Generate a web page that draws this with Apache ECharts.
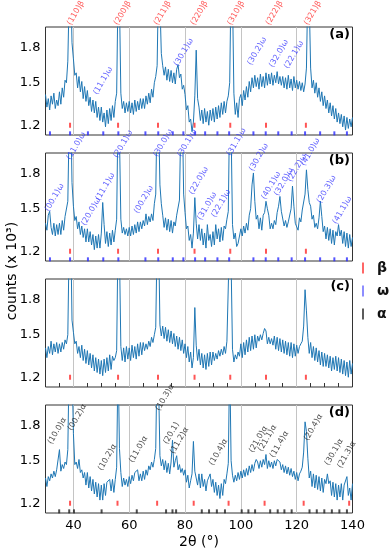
<!DOCTYPE html>
<html><head><meta charset="utf-8">
<script src="https://cdn.jsdelivr.net/npm/echarts@6/dist/echarts.min.js"></script>
<style>html,body{margin:0;padding:0;background:#fff}#c{width:392px;height:550px}</style>
</head><body><div id="c"></div>
<script>
// sampling grid of the scans (degrees 2θ)
const X_START = 30, X_STEP = 0.5;
// counts (x10^3), one value per 0.5°, 30..140
const countsA = [
1.41,1.32,1.38,1.30,1.40,1.34,1.42,1.31,1.37,1.33,
1.43,1.34,1.46,1.39,1.52,1.50,1.68,2.40,2.60,1.85,
1.70,1.56,1.58,1.46,1.55,1.43,1.51,1.38,1.47,1.36,
1.44,1.33,1.39,1.29,1.37,1.28,1.36,1.25,1.32,1.23,
1.32,1.22,1.28,1.19,1.30,1.21,1.31,1.23,1.33,1.25,
1.36,1.42,2.50,2.30,1.42,1.31,1.36,1.28,1.35,1.29,
1.36,1.28,1.35,1.27,1.37,1.29,1.36,1.30,1.38,1.31,
1.38,1.31,1.40,1.34,1.42,1.35,1.45,1.39,1.50,1.55,
1.64,2.60,2.30,1.75,1.64,1.56,1.63,1.52,1.61,1.51,
1.60,1.50,1.58,1.49,1.61,1.65,1.54,1.57,1.45,1.48,
1.41,1.30,1.33,1.22,1.24,1.16,1.22,1.40,1.78,1.38,
1.32,1.23,1.30,1.21,1.31,1.22,1.29,1.20,1.30,1.23,
1.31,1.22,1.32,1.24,1.33,1.25,1.35,1.27,1.36,1.28,
1.36,1.40,1.50,2.60,2.40,1.42,1.27,1.35,1.25,1.38,
1.41,1.33,1.44,1.37,1.47,1.39,1.51,1.43,1.54,1.46,
1.56,1.47,1.54,1.45,1.57,1.47,1.55,1.46,1.58,1.48,
1.57,1.49,1.58,1.48,1.56,1.50,1.59,1.49,1.55,1.48,
1.55,1.46,1.54,1.45,1.56,1.46,1.53,1.44,1.55,1.46,
1.52,1.45,1.51,1.44,1.50,1.43,1.49,1.62,2.50,2.30,
1.62,1.46,1.52,1.42,1.50,1.39,1.46,1.36,1.43,1.33,
1.40,1.31,1.37,1.28,1.35,1.26,1.33,1.24,1.31,1.22,
1.28,1.21,1.27,1.19,1.26,1.17,1.25,1.18,1.24,1.19,
1.25];
const countsB = [
1.39,1.34,1.45,1.48,1.36,1.31,1.39,1.30,1.38,1.31,
1.39,1.31,1.41,1.34,1.44,1.43,1.56,2.40,2.70,1.72,
1.52,1.41,1.44,1.35,1.40,1.31,1.37,1.29,1.35,1.26,
1.35,1.26,1.33,1.24,1.31,1.21,1.30,1.22,1.31,1.22,
1.32,1.55,1.38,1.25,1.33,1.23,1.32,1.24,1.34,1.26,
1.34,1.42,2.60,2.20,1.42,1.32,1.36,1.31,1.35,1.30,
1.36,1.30,1.37,1.31,1.38,1.32,1.40,1.33,1.40,1.35,
1.41,1.37,1.46,1.38,1.44,1.40,1.46,1.41,1.54,1.62,
2.60,2.50,1.70,1.54,1.45,1.36,1.43,1.34,1.42,1.33,
1.41,1.32,1.40,1.37,1.45,1.44,1.57,2.40,2.60,1.62,
1.47,1.35,1.37,1.27,1.31,1.22,1.32,1.59,1.39,1.28,
1.38,1.27,1.35,1.24,1.32,1.22,1.38,1.27,1.31,1.23,
1.33,1.24,1.38,1.28,1.35,1.26,1.36,1.27,1.37,1.35,
1.42,1.48,2.60,2.30,1.38,1.28,1.32,1.23,1.25,1.24,
1.35,1.30,1.37,1.32,1.39,1.34,1.45,1.50,1.70,1.81,
1.56,1.42,1.45,1.35,1.43,1.34,1.45,1.47,1.56,1.50,
1.45,1.35,1.39,1.35,1.41,1.38,1.47,1.52,1.60,1.48,
1.47,1.37,1.41,1.36,1.40,1.40,1.50,1.69,1.52,1.39,
1.39,1.34,1.43,1.40,1.49,1.50,1.62,1.84,1.66,1.55,
1.52,1.42,1.45,1.36,1.39,1.35,1.43,1.56,1.44,1.33,
1.37,1.28,1.36,1.27,1.35,1.25,1.34,1.24,1.33,1.30,
1.38,1.30,1.34,1.25,1.33,1.23,1.32,1.22,1.31,1.23,
1.29];
const countsC = [
1.40,1.33,1.41,1.36,1.45,1.35,1.43,1.37,1.44,1.36,
1.43,1.37,1.44,1.39,1.46,1.43,1.50,2.50,2.70,1.62,
1.52,1.43,1.45,1.36,1.41,1.33,1.42,1.31,1.39,1.29,
1.38,1.28,1.36,1.26,1.35,1.24,1.33,1.23,1.32,1.22,
1.31,1.21,1.32,1.23,1.33,1.24,1.35,1.25,1.34,1.31,
1.33,1.38,2.60,2.30,1.41,1.31,1.40,1.30,1.41,1.32,
1.40,1.31,1.42,1.33,1.41,1.32,1.43,1.34,1.44,1.35,
1.44,1.38,1.43,1.39,1.45,1.41,1.48,1.44,1.50,1.56,
2.50,2.60,1.58,1.49,1.57,1.47,1.56,1.45,1.54,1.44,
1.53,1.43,1.51,1.41,1.49,1.39,1.48,1.38,1.46,1.36,
1.43,1.33,1.41,1.30,1.37,1.26,1.33,1.73,1.42,1.31,
1.39,1.28,1.36,1.26,1.35,1.25,1.36,1.27,1.37,1.28,
1.37,1.31,1.36,1.32,1.38,1.34,1.39,1.35,1.41,1.36,
1.45,1.46,2.60,2.20,1.39,1.30,1.35,1.32,1.37,1.34,
1.43,1.33,1.44,1.35,1.46,1.37,1.48,1.38,1.49,1.39,
1.50,1.40,1.49,1.45,1.50,1.46,1.51,1.55,1.53,1.43,
1.48,1.43,1.47,1.42,1.49,1.39,1.48,1.38,1.47,1.37,
1.46,1.36,1.45,1.35,1.44,1.34,1.44,1.33,1.43,1.34,
1.42,1.36,1.41,1.43,1.45,1.57,1.90,1.70,1.48,1.36,
1.44,1.33,1.41,1.31,1.40,1.30,1.38,1.28,1.37,1.27,
1.36,1.27,1.35,1.26,1.34,1.24,1.33,1.25,1.34,1.24,
1.33,1.23,1.32,1.22,1.31,1.21,1.30,1.20,1.31,1.22,
1.29];
const countsD = [
1.37,1.31,1.38,1.35,1.40,1.37,1.42,1.38,1.43,1.44,
1.59,1.42,1.47,1.44,1.49,1.47,1.59,2.60,2.40,2.50,
1.73,1.47,1.49,1.44,1.51,1.41,1.43,1.37,1.41,1.32,
1.41,1.30,1.38,1.28,1.36,1.26,1.34,1.24,1.33,1.22,
1.32,1.22,1.33,1.25,1.34,1.33,1.36,1.28,1.36,1.27,
1.36,1.45,2.60,1.60,1.41,1.31,1.37,1.32,1.36,1.31,
1.38,1.33,1.39,1.35,1.41,1.42,1.43,1.35,1.40,1.35,
1.42,1.36,1.43,1.39,1.46,1.43,1.49,1.45,1.51,1.60,
2.60,2.30,1.54,1.46,1.51,1.43,1.50,1.41,1.48,1.40,
1.49,1.67,1.45,1.50,1.54,1.43,1.47,1.41,1.44,1.39,
1.43,1.34,1.39,1.30,1.35,1.40,1.66,1.42,1.41,1.32,
1.40,1.30,1.40,1.31,1.36,1.28,1.35,1.36,1.40,1.31,
1.36,1.27,1.34,1.25,1.32,1.23,1.33,1.25,1.36,1.33,
1.40,1.48,2.60,1.50,1.39,1.34,1.39,1.35,1.41,1.36,
1.42,1.37,1.43,1.38,1.44,1.39,1.46,1.41,1.47,1.42,
1.48,1.51,1.49,1.44,1.50,1.45,1.51,1.47,1.55,1.44,
1.50,1.45,1.49,1.44,1.50,1.46,1.51,1.52,1.49,1.43,
1.47,1.41,1.46,1.40,1.45,1.39,1.44,1.38,1.42,1.36,
1.41,1.35,1.40,1.42,1.45,1.57,1.84,1.75,1.52,1.37,
1.42,1.31,1.40,1.30,1.39,1.29,1.38,1.28,1.37,1.27,
1.36,1.33,1.40,1.33,1.35,1.25,1.34,1.24,1.33,1.22,
1.32,1.24,1.33,1.22,1.32,1.33,1.38,1.25,1.30,1.22,
1.33];

// reference reflection positions (2θ)
const betaPeaks = [38.8, 56.0, 70.3, 83.4, 96.2, 109.0, 123.3];
const betaPeaksD = [38.8, 55.8, 70.0, 83.1, 95.6, 108.5, 122.5, 138.8];
const omegaPeaks = [31.6, 38.8, 45.2, 50.7, 56.1, 65.8, 70.4, 75.6, 79.4, 83.6, 87.2, 91.6, 95.8, 104.5, 108.9, 113.4, 118.2, 123.0, 128.4, 133.5, 138.0];
const alphaPeaks = [34.9, 38.5, 40.2, 50.1, 62.7, 73.2, 75.5, 76.8, 86.0, 88.6, 91.4, 94.3, 100.3, 102.7, 105.1, 110.5, 113.2, 115.6, 118.2, 124.6, 127.2, 129.9, 132.6, 135.3, 138.0];

// peak annotations: [text, 2θ, counts]
const betaLabelsA = [['(110)β',39.9],['(200)β',56.7],['(211)β',71.0],['(220)β',84.2],['(310)β',97.3],['(222)β',111.1],['(321)β',124.8]];
const omegaLabelsA = [['(11.1)ω',49.3,1.395],['(30.1)ω',78.2,1.62],['(30.2)ω',104.5,1.63],['(32.0)ω',112.3,1.61],['(22.1)ω',117.7,1.60]];
const omegaLabelsB = [['(00.1)ω',31.9,1.465],['(11.0)ω',39.7,1.92],['(20.0)ω',45.0,1.36],['(11.1)ω',50.1,1.55],['(20.1)ω',56.5,1.94],['(00.2)ω',63.9,1.45],['(30.0)ω',70.8,1.95],['(30.1)ω',79.4,1.95],['(22.0)ω',83.6,1.60],['(31.0)ω',86.6,1.40],['(22.1)ω',91.6,1.42],['(31.1)ω',97.1,1.96],['(30.2)ω',105.1,1.81],['(40.1)ω',109.5,1.56],['(32.0)ω',114.1,1.59],['(22.2)ω',118.8,1.71],['(41.0)ω',123.6,1.86],['(20.3)ω',129.4,1.53],['(41.1)ω',135.0,1.37]];
const alphaLabelsD = [['(10.0)α',33.0,1.62],['(00.2)α',40.2,1.74],['(10.2)α',51.0,1.41],['(11.0)α',62.1,1.47],['(10.3)α',71.6,1.93],['(20.1)',74.4,1.62],['(11.2)α',76.8,1.54],['(10.4)α',90.8,1.45],['(21.0)α',105.1,1.55],['(21.1)α',108.3,1.56],['(11.4)α',112.6,1.51],['(20.4)α',124.8,1.65],['(30.1)α',132.2,1.45],['(21.3)α',136.7,1.43]];

const yTickValues = [1.2, 1.5, 1.8];
const xTickLabels = [40, 60, 80, 100, 120, 140];
const xGridLines = [40, 60, 80, 100, 120];
const xMinorTicksC = [35,40,45,50,55,60,65,70,75,80,85,90,95,100,105,110,115,120,125,130,135];
const panelNames = ['(a)','(b)','(c)','(d)'];
const Y_MIN = 1.14, Y_MAX = 2.01;
const BETA_ROW = 1.2, LOW_ROW = 1.15;

// layout / style
const TOPS = [27, 153, 279, 405], H = 108, LEFT = 45.5, RIGHT = 39.5;
const FONT = 'DejaVu Sans';
const C_LINE = '#1f77b4', C_BETA = '#ff2a2a', C_OMEGA = '#2a2aff', C_ALPHA = '#222222';

const lg = v => Math.log10(v);
const curve = arr => arr.map((v, i) => [X_START + i * X_STEP, lg(v)]);

const grid = TOPS.map(t => ({left: LEFT, right: RIGHT, top: t, height: H, show: true,
  borderColor: '#333', borderWidth: 1, backgroundColor: 'transparent'}));

const xAxis = TOPS.map((t, i) => ({
  type: 'value', gridIndex: i, min: 30, max: 140,
  axisLine: {show: false}, splitLine: {show: false},
  axisTick: i === 2 ? {show: true, inside: true, length: 4, customValues: xMinorTicksC, lineStyle: {color: '#333'}} : {show: false},
  axisLabel: i === 3 ? {show: true, customValues: xTickLabels, fontSize: 13, color: '#000', margin: 6, fontFamily: FONT} : {show: false},
  name: i === 3 ? '2θ (°)' : '', nameLocation: 'middle', nameGap: 22,
  nameTextStyle: {fontSize: 14, color: '#000', fontFamily: FONT}
}));

const yAxis = TOPS.map((t, i) => ({
  type: 'value', gridIndex: i, min: lg(Y_MIN), max: lg(Y_MAX),
  axisLine: {show: false}, splitLine: {show: false}, axisTick: {show: false},
  axisLabel: {show: true, customValues: yTickValues.map(lg), fontSize: 13, color: '#000', margin: 5,
    fontFamily: FONT, formatter: v => Math.pow(10, v).toFixed(1)}
}));

const series = [];
const countsAll = [countsA, countsB, countsC, countsD];
countsAll.forEach((arr, i) => {
  series.push({type: 'line', xAxisIndex: i, yAxisIndex: i, data: [], silent: true, z: 1,
    markLine: {silent: true, symbol: 'none', label: {show: false},
      lineStyle: {color: '#c4c4c4', width: 1, type: 'solid'},
      data: xGridLines.map(x => ({xAxis: x}))}});
  series.push({type: 'line', xAxisIndex: i, yAxisIndex: i, data: curve(arr), showSymbol: false,
    clip: true, z: 6, silent: true, lineStyle: {color: C_LINE, width: 1}, itemStyle: {color: C_LINE}});
});

function ticks(name, peaks, row, color, i, h) {
  series.push({name, type: 'scatter', xAxisIndex: i, yAxisIndex: i, symbol: 'rect', symbolSize: [2, h],
    itemStyle: {color}, data: peaks.map(x => [x, lg(row)]), z: 7, silent: true});
}
[0,1,2].forEach(i => ticks('β', betaPeaks, BETA_ROW, C_BETA, i, 5));
ticks('β', betaPeaksD, BETA_ROW, C_BETA, 3, 5);
[0,1].forEach(i => ticks('ω', omegaPeaks, LOW_ROW, C_OMEGA, i, 4));
ticks('α', alphaPeaks, LOW_ROW, C_ALPHA, 3, 4);

function labels(list, i, color) {
  series.push({type: 'scatter', xAxisIndex: i, yAxisIndex: i, symbolSize: 1, clip: false, silent: true, z: 8,
    itemStyle: {color: 'transparent'},
    data: list.map(d => ({name: d[0], value: [d[1], lg(d[2] != null ? d[2] : Y_MAX)]})),
    label: {show: true, formatter: '{b}', position: [0, 0], align: 'left', verticalAlign: 'bottom',
      rotate: 60, fontSize: 8, color, fontFamily: FONT}});
}
labels(betaLabelsA, 0, '#ff3030');
labels(omegaLabelsA, 0, '#3a3aff');
labels(omegaLabelsB, 1, '#3a3aff');
labels(alphaLabelsD, 3, '#222');

const graphic = [
  {type: 'text', x: 12, y: 271, rotation: Math.PI / 2,
   style: {text: 'counts (x 10³)', fontSize: 14, fontFamily: FONT, fill: '#000', align: 'center', verticalAlign: 'middle'}}
].concat(TOPS.map((t, i) => ({type: 'text', x: 350, y: t + 8,
   style: {text: panelNames[i], fontSize: 13, fontWeight: 'bold', fontFamily: FONT, fill: '#000', align: 'right', verticalAlign: 'middle'}})));

const chart = echarts.init(document.getElementById('c'), null, {renderer: 'canvas'});
chart.setOption({
  animation: false,
  textStyle: {fontFamily: FONT},
  grid, xAxis, yAxis, series, graphic,
  legend: {orient: 'vertical', left: 357, top: 256, itemWidth: 2, itemHeight: 11, itemGap: 9,
    selectedMode: false,
    data: [{name: 'β', icon: 'rect', itemStyle: {color: '#ff4040'}},
           {name: 'ω', icon: 'rect', itemStyle: {color: '#7070ff'}},
           {name: 'α', icon: 'rect', itemStyle: {color: '#333'}}],
    textStyle: {fontSize: 14, fontWeight: 'bold', color: '#111', fontFamily: FONT, padding: [0, 0, 0, 8]}}
});
</script></body></html>
